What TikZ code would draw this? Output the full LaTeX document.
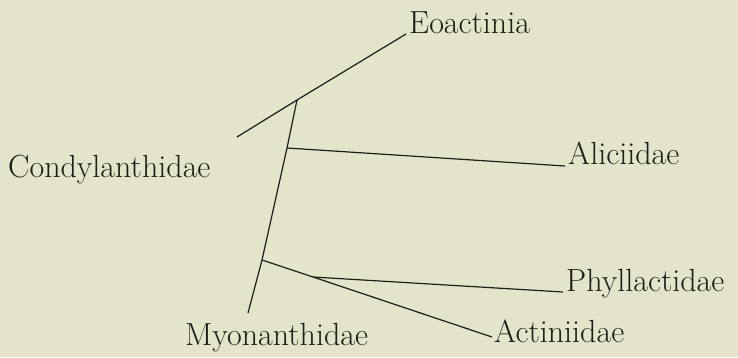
\documentclass[tikz,border=0pt]{standalone}
\usepackage{tikz}
\usetikzlibrary{positioning,calc}

\definecolor{paper}{RGB}{228,228,202}
\definecolor{ink}{RGB}{30,30,24}

\begin{document}
\begin{tikzpicture}[
  x=1pt, y=-1pt,
  taxon/.style={anchor=base west, inner sep=0pt, text=ink, font=\fontsize{32}{34}\selectfont},
  branch/.style={draw=ink, line width=1.2pt}
]

\fill[paper] (0,0) rectangle (738,357);

\node[taxon] (eoac) at (409,33)  {Eoactinia};
\node[taxon] (alic) at (568,164) {Aliciidae};
\node[taxon] (phyl) at (566,291) {Phyllactidae};
\node[taxon] (acti) at (494,342) {Actiniidae};
\node[taxon] (myon) at (185,345) {Myonanthidae};
\node[taxon] (cond) at (8,177)   {Condylanthidae};

% forks of the tree
\coordinate (root) at (237,137);
\coordinate (j1) at (297,100);
\coordinate (j2) at (287,148);
\coordinate (j3) at (262,260);
\coordinate (j4) at (313,277);
\coordinate (tip) at (248,313);

\draw[branch] (root) -- (j1) -- ($(eoac.base west)+(-3,1)$);
\draw[branch] (j1) -- (j2) -- (j3) -- (tip);
\draw[branch] (j2) -- ($(alic.base west)+(-3,2)$);
\draw[branch] (j3) -- (j4) -- ($(acti.base west)+(-2,-5)$);
\draw[branch] (j4) -- ($(phyl.base west)+(-3,1)$);

\end{tikzpicture}
\end{document}
